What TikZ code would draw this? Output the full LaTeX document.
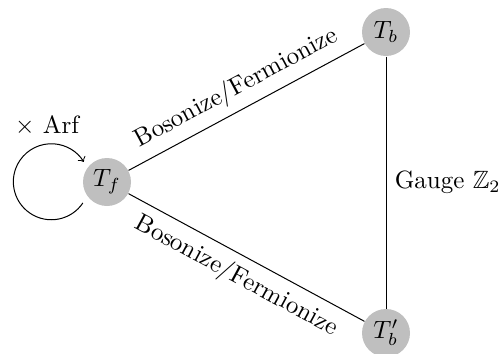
\documentclass[tikz,border=0pt]{standalone}
\usepackage{amssymb}
\usetikzlibrary{calc}
\begin{document}
\begin{tikzpicture}[x=0.4pt,y=-0.4pt,
  vert/.style={circle,fill=gray!50,minimum size=19.2pt,inner sep=0pt}]
\useasboundingbox (0,0) rectangle (501,354);
\node[vert] (Tf) at (107,182) {$T_f$};
\node[vert] (Tb) at (386,32) {$T_b$};
\node[vert] (Tbp) at (386,333) {$T_b'$};
\draw (Tf) -- node[above,sloped] {Bosonize/Fermionize} (Tb);
\draw (Tf) -- node[below,sloped] {Bosonize/Fermionize} (Tbp);
\draw (Tb) -- node[right] {Gauge $\mathbb{Z}_2$} (Tbp);
\coordinate (ls) at ($(Tf)+(221:12.8pt)$);
\draw[->] (ls) arc[start angle=-34, end angle=-328.5, radius=15.2pt];
\node (arf) at (47,126) {$\times$ Arf};
\end{tikzpicture}
\end{document}
